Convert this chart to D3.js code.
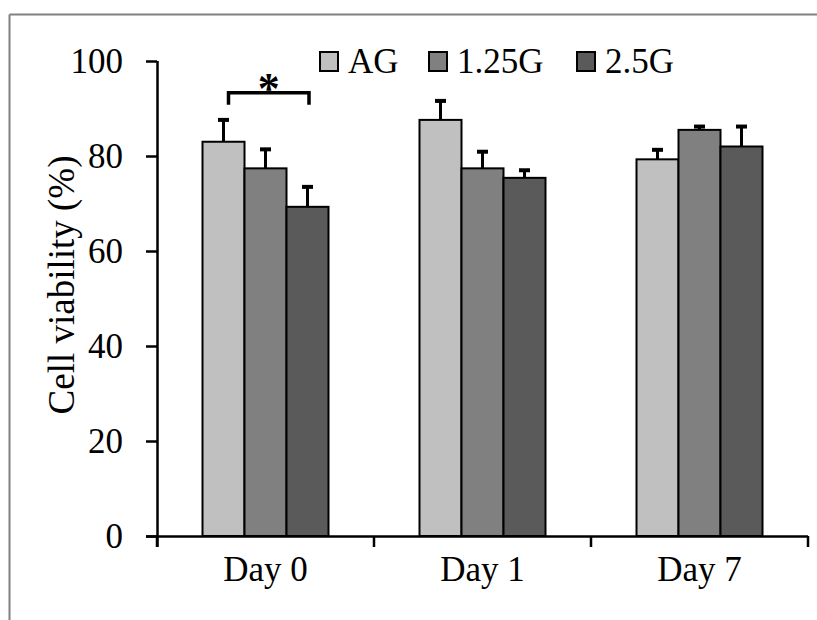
<!DOCTYPE html>
<html>
<head>
<meta charset="utf-8">
<script src="https://cdn.jsdelivr.net/npm/d3@7"></script>
<style>
  body { margin: 0; background: #fff; }
  svg text { font-family: "Liberation Serif", "Times New Roman", serif; fill: #000; }
</style>
</head>
<body>
<svg id="chart" width="817" height="620"></svg>
<script>
// data
var days = ["Day 0", "Day 1", "Day 7"];
var groups = ["AG", "1.25G", "2.5G"];
var colors = ["#c0c0c0", "#808080", "#5a5a5a"];
var meanAG = [83.0, 87.6, 79.3];
var meanG125 = [77.4, 77.4, 85.5];
var meanG25 = [69.3, 75.4, 82.0];
var errAG = [4.6, 4.0, 2.0];
var errG125 = [4.0, 3.5, 0.7];
var errG25 = [4.2, 1.6, 4.2];
var yTicks = [0, 20, 40, 60, 80, 100];

var means = [meanAG, meanG125, meanG25];
var errs = [errAG, errG125, errG25];

var svg = d3.select("#chart");

// frame lines of the cropped figure
svg.append("line").attr("x1", 9.5).attr("y1", 14.5).attr("x2", 817).attr("y2", 14.5)
    .attr("stroke", "#808080").attr("stroke-width", 2);
svg.append("line").attr("x1", 9.5).attr("y1", 14.5).attr("x2", 9.5).attr("y2", 620)
    .attr("stroke", "#808080").attr("stroke-width", 2);

var x0 = d3.scaleBand().domain(days).range([157, 808]).padding(0);
var groupW = 126;
var x1 = d3.scaleBand().domain(groups)
    .range([(x0.bandwidth() - groupW) / 2, (x0.bandwidth() + groupW) / 2]).padding(0);
var y = d3.scaleLinear().domain([0, 100]).range([536, 61]);

var rows = [];
days.forEach(function (d, i) {
    groups.forEach(function (g, j) {
        rows.push({ day: d, group: g, j: j, v: means[j][i], e: errs[j][i] });
    });
});

// error bars (upper only) drawn under the bars
var eb = svg.append("g").attr("stroke", "#000");
rows.forEach(function (r) {
    var cx = x0(r.day) + x1(r.group) + x1.bandwidth() / 2;
    eb.append("line").attr("x1", cx).attr("x2", cx)
        .attr("y1", y(r.v)).attr("y2", y(r.v + r.e)).attr("stroke-width", 3);
    eb.append("line").attr("x1", cx - 5.5).attr("x2", cx + 5.5)
        .attr("y1", y(r.v + r.e)).attr("y2", y(r.v + r.e)).attr("stroke-width", 4);
});

svg.append("g").selectAll("rect").data(rows).join("rect")
    .attr("x", function (r) { return x0(r.day) + x1(r.group); })
    .attr("y", function (r) { return y(r.v); })
    .attr("width", x1.bandwidth())
    .attr("height", function (r) { return y(0) - y(r.v); })
    .attr("fill", function (r) { return colors[r.j]; })
    .attr("stroke", "#000").attr("stroke-width", 2);

// axes
var yAxis = svg.append("g").attr("transform", "translate(157,0)")
    .call(d3.axisLeft(y).tickValues(yTicks).tickSize(11).tickPadding(23));
var xAxis = svg.append("g").attr("transform", "translate(0,536)")
    .call(d3.axisBottom(x0).tickSize(0).tickPadding(20));
[yAxis, xAxis].forEach(function (a) {
    a.select(".domain").attr("stroke", "#000").attr("stroke-width", 2.5);
    a.selectAll(".tick line").attr("stroke", "#000").attr("stroke-width", 2.5);
    a.selectAll("text").style("font-size", "35px").attr("fill", "#000")
        .style("font-family", "'Liberation Serif', 'Times New Roman', serif");
});
yAxis.select(".domain").attr("d", "M0.5,61V547");
xAxis.select(".domain").attr("d", "M146,0.5H808");
xAxis.selectAll(".tick text").attr("dy", "0.71em");

// category boundary ticks
svg.append("g").selectAll("line").data(days.concat(["end"])).join("line")
    .attr("x1", function (d, i) { return 157 + i * x0.bandwidth(); })
    .attr("x2", function (d, i) { return 157 + i * x0.bandwidth(); })
    .attr("y1", 536).attr("y2", 547)
    .attr("stroke", "#000").attr("stroke-width", 2.5);

svg.append("text")
    .attr("transform", "translate(74," + 285 + ") rotate(-90)")
    .attr("text-anchor", "middle")
    .style("font-size", "37px")
    .text("Cell viability (%)");

// significance bracket Day 0: AG vs 2.5G
var bx1 = x0("Day 0") + x1("AG") + x1.bandwidth() / 2 + 5;
var bx2 = x0("Day 0") + x1("2.5G") + x1.bandwidth() / 2 + 1.5;
var by = y(93.3), byEnd = y(90.8);
svg.append("path")
    .attr("d", "M" + bx1 + "," + byEnd + "V" + by + "H" + bx2 + "V" + byEnd)
    .attr("fill", "none").attr("stroke", "#000").attr("stroke-width", 3.5);
svg.append("text").attr("x", (bx1 + bx2) / 2).attr("y", 103)
    .attr("text-anchor", "middle").style("font-size", "44px").style("font-weight", "bold")
    .text("*");

// legend
var legX = [320, 429, 577];
var leg = svg.append("g");
groups.forEach(function (g, j) {
    leg.append("rect").attr("x", legX[j]).attr("y", 52).attr("width", 18).attr("height", 19)
        .attr("fill", colors[j]).attr("stroke", "#000").attr("stroke-width", 2);
    leg.append("text").attr("x", legX[j] + 28).attr("y", 73)
        .style("font-size", "35px").text(g);
});
</script>
</body>
</html>
